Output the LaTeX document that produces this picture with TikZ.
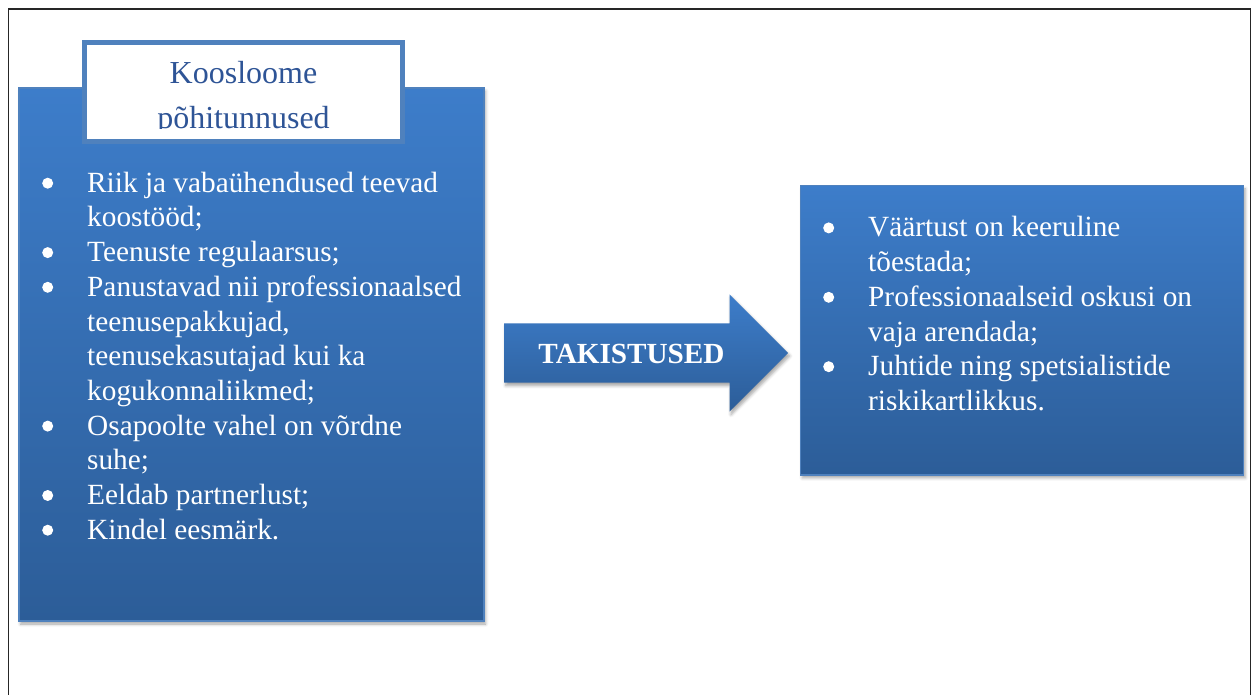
\documentclass[tikz,border=0pt]{standalone}
\usepackage{fontspec}
\setmainfont{Liberation Serif}
\usetikzlibrary{shapes.arrows,shadows.blur}
\definecolor{bluetop}{RGB}{61,125,202}
\definecolor{bluebot}{RGB}{44,93,152}
\definecolor{blueedge}{RGB}{79,129,189}
\definecolor{titleblue}{RGB}{46,84,150}
\tikzset{
  shade/.style={blur shadow={shadow xshift=1.5pt, shadow yshift=-3pt, shadow blur radius=3pt, shadow opacity=35}},
  bluebox/.style={draw=blueedge, line width=1.2pt, top color=bluetop, bottom color=bluebot, inner sep=0pt, shade},
  titlebox/.style={draw=blueedge, line width=5pt, fill=white, inner sep=0pt, minimum width=318pt, minimum height=99pt},
  listtext/.style={text=white, align=left, inner sep=0pt, anchor=north west, font=\fontsize{29.3}{34.7}\selectfont},
  bigarrow/.style={single arrow, single arrow head extend=29pt, single arrow tip angle=90, minimum height=284pt, inner xsep=0pt, inner ysep=29.5pt, top color=bluetop, bottom color=bluebot, shade}
}
\newcommand{\bl}{\makebox[46pt][l]{\hspace{1pt}\raisebox{3.5pt}{\tikz\fill[white] (0,0) circle (5.5pt);}}}
\newcommand{\ind}{\hspace*{46pt}}
\begin{document}
\begin{tikzpicture}[x=1pt,y=-1pt]
\useasboundingbox (0,0) rectangle (1256,695);
\draw[black!85, line width=1.3pt] (8.5,695) -- (8.5,9) -- (1250.5,9) -- (1250.5,695);

\node[bluebox, minimum width=465pt, minimum height=533pt] (left) at (251.5,354.5) {};
\node[bluebox, minimum width=443pt, minimum height=289pt] (right) at (1022.3,330.4) {};
\node[bigarrow, anchor=tail] (arr) at (504,353) {};
\node[titlebox] (kbox) at (243.5,92) {};

\begin{scope}
\clip (87,45) rectangle (400,129);
\node[text=titleblue, align=center, inner sep=0pt, anchor=north, font=\fontsize{32}{44.7}\selectfont] (kt) at (243.5,55.3) {\rule{0pt}{28pt}Koosloome\\põhitunnused};
\end{scope}

\node[listtext] (list1) at (41,166) {\bl\rule{0pt}{26pt}Riik ja vabaühendused teevad\\
\ind koostööd;\\
\bl Teenuste regulaarsus;\\
\bl Panustavad nii professionaalsed\\
\ind teenusepakkujad,\\
\ind teenusekasutajad kui ka\\
\ind kogukonnaliikmed;\\
\bl Osapoolte vahel on võrdne\\
\ind suhe;\\
\bl Eeldab partnerlust;\\
\bl Kindel eesmärk.};

\node[listtext] (list2) at (822,210.7) {\bl\rule{0pt}{26pt}Väärtust on keeruline\\
\ind tõestada;\\
\bl Professionaalseid oskusi on\\
\ind vaja arendada;\\
\bl Juhtide ning spetsialistide\\
\ind riskikartlikkus.};

\node[text=white, inner sep=0pt, anchor=base, font=\fontsize{29.2}{35}\selectfont\bfseries] (tak) at (631.5,363) {TAKISTUSED};

\end{tikzpicture}
\end{document}
